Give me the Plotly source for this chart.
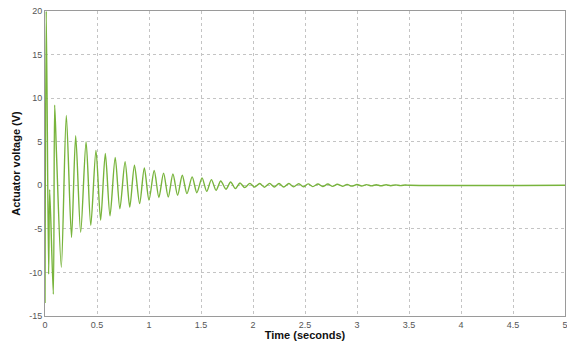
import plotly.graph_objects as go

# Time samples (s) at the turning points of the recorded signal
time_s = [0.0, 0.012, 0.035, 0.045, 0.08, 0.093, 0.11, 0.157, 0.205, 0.255,
          0.295, 0.343, 0.395, 0.44, 0.49, 0.535, 0.58, 0.625, 0.675, 0.72,
          0.77, 0.815, 0.86, 0.91, 0.955, 1.0, 1.05, 1.095, 1.14, 1.185,
          1.23, 1.275, 1.32, 1.365, 1.415, 1.46, 1.51, 1.555, 1.60, 1.645,
          1.69, 1.74, 1.785, 1.83, 1.875, 1.92, 1.97, 2.015, 2.065, 2.11,
          2.16, 2.205, 2.25, 2.295, 2.345, 2.39, 2.44, 2.485, 2.53, 2.575,
          2.625, 2.67, 2.72, 2.765, 2.81, 2.86, 2.905, 2.95, 3.0, 3.045,
          3.09, 3.14, 3.185, 3.23, 3.28, 3.325, 3.37, 3.42, 3.465, 3.51, 5.0]

# Actuator voltage (V) at those samples
voltage_v = [-13.5, 20.0, -10.2, -0.5, -12.5, 9.2, 3.8, -9.4, 8.0, -6.0,
             5.7, -5.4, 5.0, -4.6, 4.0, -4.0, 3.65, -3.5, 3.2, -2.7,
             2.7, -2.5, 2.3, -2.1, 2.0, -1.7, 1.7, -1.4, 1.4, -1.35,
             1.3, -1.15, 1.15, -0.96, 0.96, -0.85, 0.85, -0.7, 0.65, -0.58,
             0.5, -0.46, 0.38, -0.38, 0.27, -0.27, 0.22, -0.2, 0.2, -0.22,
             0.22, -0.2, 0.2, -0.2, 0.2, -0.18, 0.18, -0.18, 0.16, -0.15,
             0.15, -0.14, 0.14, -0.12, 0.12, -0.11, 0.1, -0.1, 0.09, -0.08,
             0.08, -0.07, 0.07, -0.06, 0.06, -0.05, 0.05, -0.04, 0.04, 0.0, 0.0]

x_ticks = [0, 0.5, 1, 1.5, 2, 2.5, 3, 3.5, 4, 4.5, 5]
x_tick_labels = ["0", "0.5", "1", "1.5", "2", "2.5", "3", "3.5", "4", "4.5", "5"]
y_ticks = [-15, -10, -5, 0, 5, 10, 15, 20]
y_tick_labels = ["-15", "-10", "-5", "0", "5", "10", "15", "20"]

fig = go.Figure()
fig.add_trace(go.Scatter(
    x=time_s, y=voltage_v, mode="lines",
    line=dict(color="#78b43c", width=1.4, shape="spline", smoothing=0.8),
    showlegend=False,
))

axis_common = dict(
    showgrid=True, gridcolor="#c4c4c4", griddash="dot", gridwidth=1,
    showline=True, linecolor="#9a9a9a", linewidth=1, mirror=True,
    zeroline=False, ticks="", ticklabeloverflow="allow",
    tickfont=dict(family="Arial", size=9, color="#555555"),
)

fig.update_xaxes(range=[0, 5], tickvals=x_ticks, ticktext=x_tick_labels,
                 title=dict(text="<b>Time (seconds)</b>", standoff=2,
                            font=dict(family="Arial", size=11, color="#111111")),
                 **axis_common)
fig.update_yaxes(range=[-15, 20], tickvals=y_ticks, ticktext=y_tick_labels,
                 title=dict(text="<b>Actuator voltage (V)</b>", standoff=6,
                            font=dict(family="Arial", size=11, color="#111111")),
                 **axis_common)

fig.update_layout(
    width=567, height=341,
    margin=dict(l=45, r=2, t=11, b=25, autoexpand=False),
    paper_bgcolor="white", plot_bgcolor="white",
)

fig.write_html("out.html", config={"displayModeBar": False},
               post_script="document.body.style.margin='0';document.body.style.overflow='hidden';")
